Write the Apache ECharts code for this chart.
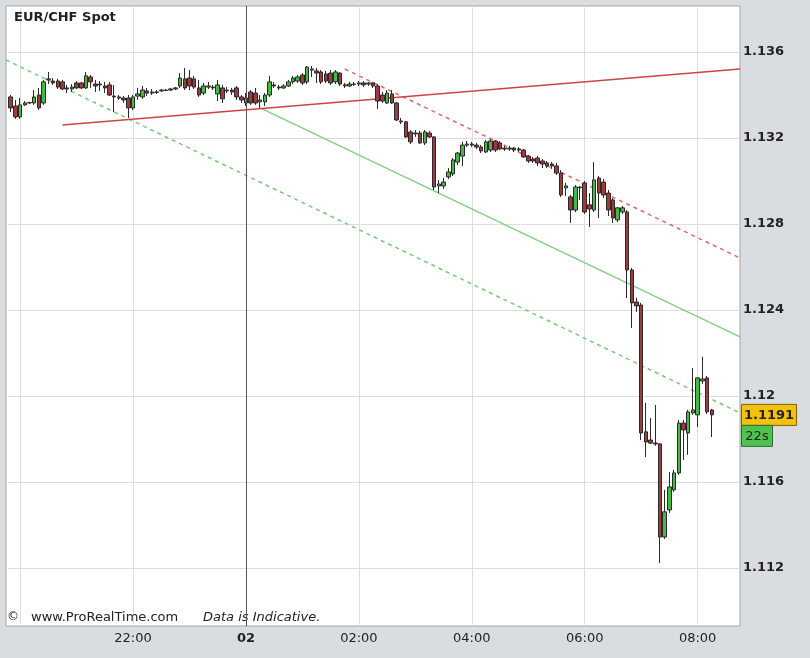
<!DOCTYPE html>
<html><head><meta charset="utf-8">
<script src="https://cdn.jsdelivr.net/npm/echarts@6/dist/echarts.min.js"></script>
<style>html,body{margin:0;padding:0;background:#d9dde0}#c{width:810px;height:658px}</style>
</head><body><div id="c"></div><script>
// 5-minute time slots (x categories)
const times = [
"19:45","19:50","19:55",
"20:00","20:05","20:10","20:15","20:20","20:25","20:30","20:35","20:40","20:45","20:50","20:55",
"21:00","21:05","21:10","21:15","21:20","21:25","21:30","21:35","21:40","21:45","21:50","21:55",
"22:00","22:05","22:10","22:15","22:20","22:25","22:30","22:35","22:40","22:45","22:50","22:55",
"23:00","23:05","23:10","23:15","23:20","23:25","23:30","23:35","23:40","23:45","23:50","23:55",
"00:00","00:05","00:10","00:15","00:20","00:25","00:30","00:35","00:40","00:45","00:50","00:55",
"01:00","01:05","01:10","01:15","01:20","01:25","01:30","01:35","01:40","01:45","01:50","01:55",
"02:00","02:05","02:10","02:15","02:20","02:25","02:30","02:35","02:40","02:45","02:50","02:55",
"03:00","03:05","03:10","03:15","03:20","03:25","03:30","03:35","03:40","03:45","03:50","03:55",
"04:00","04:05","04:10","04:15","04:20","04:25","04:30","04:35","04:40","04:45","04:50","04:55",
"05:00","05:05","05:10","05:15","05:20","05:25","05:30","05:35","05:40","05:45","05:50","05:55",
"06:00","06:05","06:10","06:15","06:20","06:25","06:30","06:35","06:40","06:45","06:50","06:55",
"07:00","07:05","07:10","07:15","07:20","07:25","07:30","07:35","07:40","07:45","07:50","07:55",
"08:00","08:05","08:10","08:15","08:20","08:25","08:30","08:35","08:40","08:45"];
const firstCandleTime = "19:50";

const opens = [
1.13391,1.13349,1.13298,1.13354,1.13363,1.13363,1.13400,1.13363,1.13470,1.13465,
1.13465,1.13461,1.13433,1.13428,1.13456,1.13456,1.13433,1.13484,1.13451,1.13447,
1.13442,1.13447,1.13395,1.13391,1.13386,1.13386,1.13340,1.13395,1.13391,1.13419,
1.13409,1.13414,1.13419,1.13423,1.13423,1.13428,1.13442,1.13475,1.13479,1.13475,
1.13433,1.13409,1.13437,1.13437,1.13405,1.13433,1.13419,1.13423,1.13433,1.13391,
1.13363,1.13414,1.13409,1.13368,1.13368,1.13400,1.13447,1.13437,1.13433,1.13442,
1.13461,1.13465,1.13493,1.13461,1.13516,1.13512,1.13507,1.13498,1.13502,1.13461,
1.13502,1.13447,1.13442,1.13451,1.13451,1.13456,1.13451,1.13456,1.13442,1.13400,
1.13363,1.13405,1.13363,1.13279,1.13275,1.13228,1.13219,1.13223,1.13177,1.13223,
1.13205,1.12977,1.12977,1.13019,1.13033,1.13088,1.13116,1.13167,1.13172,1.13167,
1.13158,1.13135,1.13144,1.13186,1.13177,1.13153,1.13149,1.13153,1.13149,1.13144,
1.13116,1.13102,1.13107,1.13093,1.13084,1.13079,1.13070,1.13037,1.12968,1.12926,
1.12865,1.12968,1.12991,1.12889,1.12865,1.13014,1.12995,1.12944,1.12912,1.12819,
1.12856,1.12856,1.12586,1.12437,1.12423,1.11833,1.11795,1.11781,1.11777,1.11344,
1.11470,1.11563,1.11642,1.11874,1.11828,1.11921,1.11912,1.12070,1.12084,1.11935];
const closes = [
1.13340,1.13298,1.13354,1.13363,1.13365,1.13391,1.13340,1.13461,1.13475,1.13456,
1.13437,1.13428,1.13428,1.13437,1.13433,1.13433,1.13489,1.13461,1.13442,1.13451,
1.13433,1.13400,1.13391,1.13386,1.13377,1.13340,1.13391,1.13405,1.13423,1.13409,
1.13414,1.13412,1.13423,1.13421,1.13428,1.13433,1.13479,1.13433,1.13442,1.13437,
1.13400,1.13442,1.13442,1.13433,1.13447,1.13382,1.13423,1.13414,1.13391,1.13377,
1.13386,1.13363,1.13363,1.13377,1.13400,1.13461,1.13442,1.13433,1.13442,1.13461,
1.13479,1.13484,1.13456,1.13530,1.13521,1.13502,1.13461,1.13465,1.13456,1.13507,
1.13451,1.13442,1.13451,1.13449,1.13456,1.13447,1.13456,1.13442,1.13372,1.13372,
1.13409,1.13363,1.13284,1.13275,1.13205,1.13182,1.13223,1.13177,1.13228,1.13205,
1.12972,1.12986,1.12995,1.13042,1.13098,1.13130,1.13167,1.13172,1.13167,1.13158,
1.13140,1.13182,1.13186,1.13144,1.13149,1.13149,1.13153,1.13144,1.13144,1.13112,
1.13093,1.13093,1.13084,1.13079,1.13070,1.13070,1.13037,1.12935,1.12977,1.12865,
1.12972,1.12972,1.12856,1.12870,1.13005,1.12944,1.12935,1.12865,1.12828,1.12875,
1.12875,1.12586,1.12433,1.12419,1.11828,1.11786,1.11781,1.11777,1.11344,1.11461,
1.11577,1.11642,1.11874,1.11842,1.11926,1.11935,1.12084,1.12079,1.11926,1.11912];
const lows = [
1.13321,1.13289,1.13289,1.13349,1.13358,1.13354,1.13330,1.13354,1.13451,1.13447,
1.13428,1.13423,1.13409,1.13414,1.13428,1.13428,1.13428,1.13433,1.13414,1.13419,
1.13409,1.13395,1.13321,1.13377,1.13363,1.13293,1.13330,1.13377,1.13382,1.13395,
1.13400,1.13405,1.13414,1.13419,1.13419,1.13423,1.13433,1.13423,1.13423,1.13428,
1.13391,1.13400,1.13428,1.13423,1.13372,1.13363,1.13409,1.13400,1.13377,1.13363,
1.13349,1.13354,1.13354,1.13340,1.13349,1.13391,1.13433,1.13423,1.13428,1.13437,
1.13451,1.13456,1.13447,1.13451,1.13484,1.13456,1.13451,1.13456,1.13447,1.13451,
1.13442,1.13433,1.13437,1.13442,1.13442,1.13437,1.13442,1.13433,1.13335,1.13363,
1.13358,1.13358,1.13279,1.13265,1.13200,1.13172,1.13205,1.13172,1.13167,1.13200,
1.12958,1.12944,1.12963,1.13009,1.13023,1.13074,1.13070,1.13158,1.13158,1.13149,
1.13130,1.13130,1.13135,1.13135,1.13144,1.13140,1.13140,1.13135,1.13135,1.13107,
1.13084,1.13084,1.13070,1.13060,1.13060,1.13056,1.13028,1.12926,1.12930,1.12805,
1.12856,1.12912,1.12847,1.12786,1.12856,1.12828,1.12921,1.12837,1.12805,1.12809,
1.12847,1.12456,1.12316,1.12391,1.11795,1.11716,1.11777,1.11768,1.11223,1.11335,
1.11456,1.11554,1.11633,1.11702,1.11726,1.11912,1.11856,1.12056,1.11916,1.11809];
const highs = [
1.13400,1.13377,1.13386,1.13372,1.13368,1.13423,1.13433,1.13470,1.13507,1.13479,
1.13475,1.13470,1.13447,1.13451,1.13465,1.13461,1.13507,1.13493,1.13470,1.13465,
1.13461,1.13461,1.13447,1.13400,1.13395,1.13400,1.13400,1.13433,1.13442,1.13433,
1.13428,1.13423,1.13428,1.13428,1.13433,1.13437,1.13502,1.13526,1.13516,1.13489,
1.13470,1.13456,1.13461,1.13447,1.13470,1.13447,1.13437,1.13433,1.13442,1.13400,
1.13409,1.13423,1.13433,1.13400,1.13409,1.13489,1.13461,1.13447,1.13451,1.13470,
1.13489,1.13493,1.13502,1.13535,1.13535,1.13526,1.13516,1.13512,1.13516,1.13516,
1.13507,1.13456,1.13461,1.13461,1.13465,1.13465,1.13461,1.13461,1.13451,1.13414,
1.13423,1.13423,1.13368,1.13293,1.13279,1.13237,1.13237,1.13233,1.13237,1.13233,
1.13209,1.13005,1.13014,1.13060,1.13107,1.13135,1.13182,1.13186,1.13182,1.13177,
1.13167,1.13191,1.13195,1.13191,1.13186,1.13163,1.13163,1.13158,1.13158,1.13149,
1.13121,1.13112,1.13116,1.13102,1.13093,1.13088,1.13084,1.13051,1.12991,1.12935,
1.12981,1.12977,1.13000,1.12944,1.13088,1.13023,1.13009,1.12958,1.12921,1.12879,
1.12884,1.12865,1.12595,1.12456,1.12433,1.11968,1.11898,1.11958,1.11781,1.11563,
1.11647,1.11656,1.11888,1.11888,1.11935,1.12130,1.12088,1.12182,1.12093,1.11940];

// trend lines: [time, price] endpoints
const redSolidLine   = [["20:45", 1.13260], ["08:45", 1.13521]];
const redDashedLine  = [["01:45", 1.13521], ["08:45", 1.12642]];
const greenSolidLine = [["00:15", 1.13340], ["08:45", 1.12275]];
const greenDashLine  = [["19:45", 1.13563], ["08:45", 1.11921]];

const yTicks = [1.112, 1.116, 1.12, 1.124, 1.128, 1.132, 1.136];
const xLabelTimes = ["22:00", "00:00", "02:00", "04:00", "06:00", "08:00"];
const xGridTimes = ["20:00", "22:00", "02:00", "04:00", "06:00", "08:00"];
const dayBreak = "00:00";
const dayLabel = "02";
const countdown = "22s";
const yMin = 1.10930, yMax = 1.13814;

const FF = "DejaVu Sans";
const start = times.indexOf(firstCandleTime);
const candleData = times.map((t, k) => {
  const j = k - start;
  return (j >= 0 && j < opens.length) ? [opens[j], closes[j], lows[j], highs[j]] : '-';
});

const chart = echarts.init(document.getElementById('c'), null, {renderer: 'canvas'});
const lineS = (data, color, type) => ({
  type: 'line', data, symbol: 'none', silent: true, z: 2,
  lineStyle: {color, width: 1.5, type: type === 'dashed' ? [4, 4] : 'solid'}
});
chart.setOption({
  animation: false,
  backgroundColor: '#d9dde0',
  title: {text: 'EUR/CHF Spot', left: 9, top: 6,
    textStyle: {fontSize: 13, fontWeight: 'bold', color: '#222', fontFamily: FF}},
  grid: {left: 6, right: 70, top: 6, bottom: 32, show: true, backgroundColor: '#ffffff',
    borderColor: '#a2a5a8', borderWidth: 1},
  xAxis: {type: 'category', data: times, boundaryGap: false,
    axisLine: {show: false}, axisTick: {show: false},
    axisLabel: {interval: (i, v) => xLabelTimes.includes(v), margin: 6,
      formatter: v => v === dayBreak ? '{b|' + dayLabel + '}' : v,
      color: '#222', fontSize: 13, fontFamily: FF,
      rich: {b: {fontWeight: 'bold', fontSize: 13, fontFamily: FF, color: '#222'}}},
    splitLine: {show: true, interval: (i, v) => xGridTimes.includes(v),
      lineStyle: {color: '#dedede', width: 1}}},
  yAxis: {type: 'value', position: 'right', min: yMin, max: yMax, scale: true,
    axisLine: {show: false},
    axisTick: {show: false, customValues: yTicks},
    axisLabel: {customValues: yTicks, color: '#222', fontWeight: 'bold', fontSize: 13,
      fontFamily: FF, margin: 3},
    splitLine: {show: true, lineStyle: {color: '#dedede', width: 1}}},
  series: [
    lineS(greenDashLine, '#79c879', 'dashed'),
    lineS(greenSolidLine, '#84cf84', 'solid'),
    lineS(redDashedLine, '#d86a6a', 'dashed'),
    lineS(redSolidLine, '#cc4444', 'solid'),
    {type: 'candlestick', data: candleData, barWidth: 4, z: 3,
      itemStyle: {color: '#46b846', color0: '#a23a3d', borderColor: '#2a2a2a',
        borderColor0: '#2a2a2a', borderWidth: 1},
      markLine: {silent: true, symbol: 'none', label: {show: false},
        lineStyle: {color: '#555', width: 1, type: 'solid'},
        data: [{xAxis: dayBreak}]}}
  ]
});

const lastClose = closes[closes.length - 1];
const py = chart.convertToPixel({yAxisIndex: 0}, lastClose);
chart.setOption({
  graphic: [
    {type: 'text', left: 7, top: 611, style: {text: '©', font: '12px ' + FF, fill: '#222'}},
    {type: 'text', left: 31, top: 611, style: {text: 'www.ProRealTime.com', font: '13px ' + FF, fill: '#222'}},
    {type: 'text', left: 203, top: 611, style: {text: 'Data is Indicative.', font: 'italic 13px ' + FF, fill: '#222'}},
    {type: 'group', left: 741, top: py - 11, children: [
      {type: 'rect', shape: {x: 0, y: 0, width: 55, height: 21},
        style: {fill: '#f4c20d', stroke: '#7d6300', lineWidth: 1}},
      {type: 'text', style: {x: 27.5, y: 11, text: lastClose.toFixed(4), align: 'center',
        verticalAlign: 'middle', font: 'bold 13px ' + FF, fill: '#222'}}]},
    {type: 'group', left: 741, top: py + 10, children: [
      {type: 'rect', shape: {x: 0, y: 0, width: 31, height: 21},
        style: {fill: '#4fc24f', stroke: '#2b6e2b', lineWidth: 1}},
      {type: 'text', style: {x: 15.5, y: 11, text: countdown, align: 'center',
        verticalAlign: 'middle', font: '13px ' + FF, fill: '#222'}}]}
  ]
});
</script></body></html>
